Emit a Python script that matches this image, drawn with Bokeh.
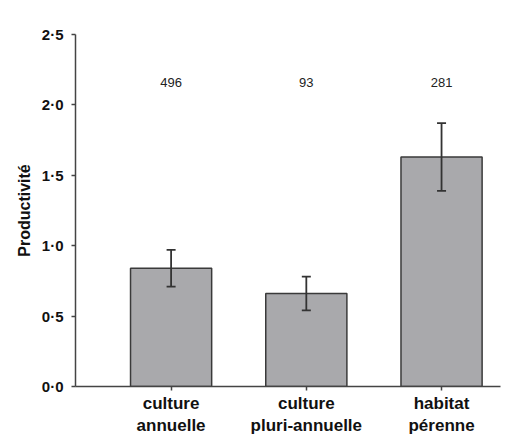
from bokeh.plotting import figure
from bokeh.models import Range1d, FixedTicker, CustomJSTickFormatter, Whisker, ColumnDataSource, TeeHead
from bokeh.core.properties import value
from bokeh.embed import file_html
from bokeh.resources import INLINE

categories = ["culture\nannuelle", "culture\npluri-annuelle", "habitat\npérenne"]
positions = [1, 2, 3]
means = [0.84, 0.66, 1.63]
err_low = [0.71, 0.54, 1.39]
err_high = [0.97, 0.78, 1.87]
counts = ["496", "93", "281"]
count_y = [2.16, 2.16, 2.16]
y_ticks = [0.0, 0.5, 1.0, 1.5, 2.0, 2.5]

p = figure(width=505, height=438, output_backend="svg", toolbar_location=None,
           x_range=Range1d(0.293, 3.436), y_range=Range1d(0, 2.5))
p.min_border_left = 75
p.min_border_top = 34
p.min_border_bottom = 51
p.min_border_right = 5
p.outline_line_color = None
p.xgrid.visible = False
p.ygrid.visible = False
p.background_fill_color = "white"
p.border_fill_color = "white"

src = ColumnDataSource(dict(x=positions, top=means, lo=err_low, hi=err_high))
p.vbar(x="x", top="top", bottom=0, width=0.6, source=src,
       fill_color="#a9a9ac", line_color="#3a3a3a", line_width=1.5)

w = Whisker(base="x", lower="lo", upper="hi", source=src, line_color="#333333", line_width=1.8,
            level="overlay",
            upper_head=TeeHead(size=9, line_color="#333333", line_width=1.8),
            lower_head=TeeHead(size=9, line_color="#333333", line_width=1.8))
p.add_layout(w)

p.text(x=positions, y=count_y, text=counts, text_align="center", text_baseline="middle",
       text_font=value("Liberation Sans"), text_font_size="13px", text_color="#222222")

# y axis
ya = p.yaxis[0]
ya.ticker = FixedTicker(ticks=y_ticks)
ya.formatter = CustomJSTickFormatter(code="return tick.toFixed(1).replace('.', '\u00b7');")
ya.axis_label = "Productivité"
ya.axis_label_text_font = "Liberation Sans"
ya.axis_label_text_font_style = "bold"
ya.axis_label_text_font_size = "16px"
ya.axis_label_text_color = "#111111"
ya.axis_label_standoff = 6
ya.major_label_text_font = "Liberation Sans"
ya.major_label_text_font_style = "bold"
ya.major_label_text_font_size = "15px"
ya.major_label_text_color = "#111111"
ya.major_label_standoff = 8
ya.minor_tick_line_color = None
ya.major_tick_out = 4
ya.major_tick_in = 0
ya.axis_line_color = "#444444"
ya.axis_line_width = 1.5
ya.major_tick_line_color = "#444444"
ya.major_tick_line_width = 1.5

# x axis
xa = p.xaxis[0]
xa.ticker = FixedTicker(ticks=positions)
xa.formatter = CustomJSTickFormatter(args=dict(labels=categories),
                                     code="return labels[Math.round(tick) - 1];")
xa.major_label_text_font = "Liberation Sans"
xa.major_label_text_font_style = "bold"
xa.major_label_text_font_size = "17px"
xa.major_label_text_color = "#111111"
xa.major_label_standoff = 3
xa.minor_tick_line_color = None
xa.major_tick_out = 4
xa.major_tick_in = 0
xa.axis_line_color = "#444444"
xa.axis_line_width = 1.5
xa.major_tick_line_color = "#444444"
xa.major_tick_line_width = 1.5

open("out.html", "w").write(file_html(p, INLINE))
